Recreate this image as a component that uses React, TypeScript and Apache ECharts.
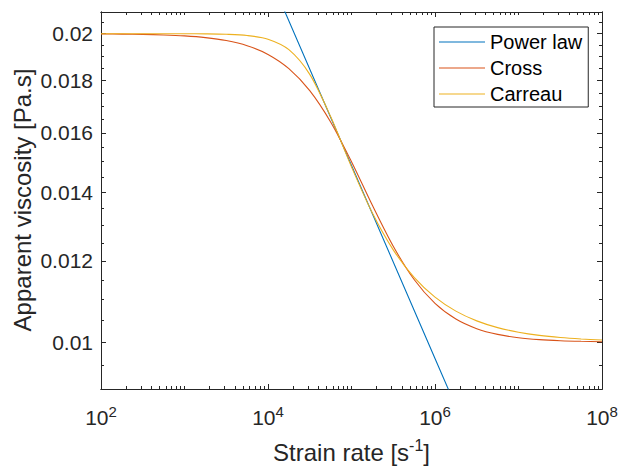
import React, { useEffect, useRef } from "react";
import * as echarts from "echarts";

// Strain rates (s^-1) sampled along the Cross and Carreau curves
const strainRates = [
  100, 177.8, 316.2, 562.3, 1000, 1778, 3162, 5623, 1e4, 17783, 31623, 56234,
  1e5, 177828, 316228, 562341, 1e6, 1778279, 3162278, 5623413, 1e7, 17782794,
  31622777, 56234133, 1e8,
];
// Apparent viscosity (Pa.s)
const crossViscosity = [
  0.01999, 0.019982, 0.019968, 0.019944, 0.019901, 0.019825, 0.019694, 0.019468,
  0.019091, 0.01849, 0.017598, 0.016401, 0.015, 0.013599, 0.012403, 0.01151,
  0.010909, 0.010532, 0.010307, 0.010175, 0.010099, 0.010056, 0.010032, 0.010018,
  0.01001,
];
const carreauViscosity = [
  0.02, 0.02, 0.02, 0.019999, 0.019997, 0.019992, 0.019974, 0.01992, 0.019754,
  0.019294, 0.018254, 0.016603, 0.014827, 0.013365, 0.012303, 0.011566, 0.011063,
  0.010721, 0.010489, 0.010331, 0.010225, 0.010152, 0.010103, 0.01007, 0.010047,
];
const powerLawRates = [1e4, 1e5, 1e6, 1e7];
const powerLawViscosity = [0.02294, 0.01487, 0.00964, 0.00625];

const seriesNames = ["Power law", "Cross", "Carreau"];
const seriesColors = ["#0072BD", "#D95319", "#EDB120"];
const xTickExponents = [2, 4, 6, 8];
const yTickLabels = [0.01, 0.012, 0.014, 0.016, 0.018, 0.02];
const xRange = [100, 1e8];
const yRange = [0.009, 0.021];

const FONT = '"Liberation Sans", Arial, Helvetica, sans-serif';
const AX = "#262626";
const L = Math.log10;

export default function App() {
  const ref = useRef<HTMLDivElement>(null);
  useEffect(() => {
    document.body.style.margin = "0";
    const chart = echarts.init(ref.current!, null, { renderer: "svg" });

    const xMajor = xTickExponents;
    const xMinor: number[] = [];
    for (let d = L(xRange[0]); d < L(xRange[1]); d++) {
      for (let k = 2; k <= 10; k++) {
        const v = L(k * Math.pow(10, d));
        if (!xMajor.some((m) => Math.abs(m - v) < 1e-9)) xMinor.push(v);
      }
    }
    const yMajor = yTickLabels.map((v) => L(v));
    const yMinor: number[] = [];
    for (let i = 19; i <= 41; i++) {
      const v = i * 0.0005;
      if (!yTickLabels.some((m) => Math.abs(m - v) < 1e-9)) yMinor.push(L(v));
    }

    const xMin = L(xRange[0]);
    const xMax = L(xRange[1]);
    const yMin = L(yRange[0]);
    const yMax = L(yRange[1]);

    const axisBase = {
      type: "value" as const,
      gridIndex: 0,
      axisLine: { show: true, onZero: false, lineStyle: { color: AX, width: 1 } },
      splitLine: { show: false },
      minorTick: { show: false },
    };
    const mkX = (position: string, ticks: number[], len: number, labels: boolean) => ({
      ...axisBase,
      position,
      min: xMin,
      max: xMax,
      axisTick: { show: true, inside: true, length: len, customValues: ticks, lineStyle: { color: AX, width: 1 } },
      axisLabel: labels
        ? {
            show: true,
            customValues: xMajor,
            margin: 15,
            formatter: (v: number) => `{b|10}{s|${Math.round(v)}}`,
            rich: {
              b: { fontSize: 21, fontFamily: FONT, color: AX, lineHeight: 26 },
              s: { fontSize: 15, fontFamily: FONT, color: AX, lineHeight: 15, verticalAlign: "top" },
            },
          }
        : { show: false },
    });
    const mkY = (position: string, ticks: number[], len: number, labels: boolean) => ({
      ...axisBase,
      position,
      min: yMin,
      max: yMax,
      axisTick: { show: true, inside: true, length: len, customValues: ticks, lineStyle: { color: AX, width: 1 } },
      axisLabel: labels
        ? {
            show: true,
            customValues: yMajor,
            margin: 8,
            fontSize: 21,
            fontFamily: FONT,
            color: AX,
            formatter: (v: number) => String(parseFloat(Math.pow(10, v).toFixed(3))),
          }
        : { show: false },
    });

    const line = (name: string, color: string, xs: number[], ys: number[], smooth: number) => ({
      name,
      type: "line",
      xAxisIndex: 0,
      yAxisIndex: 0,
      data: xs.map((g, i) => [L(g), L(ys[i])]),
      symbol: "none",
      smooth,
      clip: true,
      lineStyle: { color, width: 1.1 },
      itemStyle: { color },
    });

    chart.setOption({
      animation: false,
      backgroundColor: "#ffffff",
      grid: { left: 101, top: 12, width: 501, height: 377, containLabel: false, outerBoundsMode: "none" },
      xAxis: [
        mkX("bottom", xMajor, 5, true),
        mkX("bottom", xMinor, 3, false),
        mkX("top", xMajor, 5, false),
        mkX("top", xMinor, 3, false),
      ],
      yAxis: [
        mkY("left", yMajor, 5, true),
        mkY("left", yMinor, 3, false),
        mkY("right", yMajor, 5, false),
        mkY("right", yMinor, 3, false),
      ],
      legend: {
        left: 434,
        top: 27,
        orient: "vertical",
        icon: "rect",
        itemWidth: 46,
        itemHeight: 1.2,
        itemGap: 6,
        padding: [5, 6, 3, 5],
        borderColor: AX,
        borderWidth: 1,
        backgroundColor: "#ffffff",
        textStyle: { fontFamily: FONT, fontSize: 20, color: "#000", lineHeight: 20 },
        data: seriesNames,
      },
      series: [
        line(seriesNames[0], seriesColors[0], powerLawRates, powerLawViscosity, 0),
        line(seriesNames[1], seriesColors[1], strainRates, crossViscosity, 0.3),
        line(seriesNames[2], seriesColors[2], strainRates, carreauViscosity, 0.3),
      ],
      graphic: [
        {
          type: "text",
          x: 351.5,
          y: 452,
          style: {
            text: "{a|Strain rate [s}{s|-1}{a|]}",
            align: "center",
            verticalAlign: "middle",
            rich: {
              a: { fontSize: 24, fontFamily: FONT, fill: AX, lineHeight: 30 },
              s: { fontSize: 16, fontFamily: FONT, fill: AX, lineHeight: 14, verticalAlign: "top" },
            },
          },
        },
        {
          type: "text",
          x: 22,
          y: 200,
          rotation: Math.PI / 2,
          style: {
            text: "Apparent viscosity [Pa.s]",
            fontSize: 24,
            fontFamily: FONT,
            fill: AX,
            align: "center",
            verticalAlign: "middle",
          },
        },
      ],
    });
    return () => chart.dispose();
  }, []);
  return (
    <div
      ref={ref}
      style={{ position: "absolute", left: 0, top: 0, width: 619, height: 470, background: "#fff" }}
    />
  );
}
